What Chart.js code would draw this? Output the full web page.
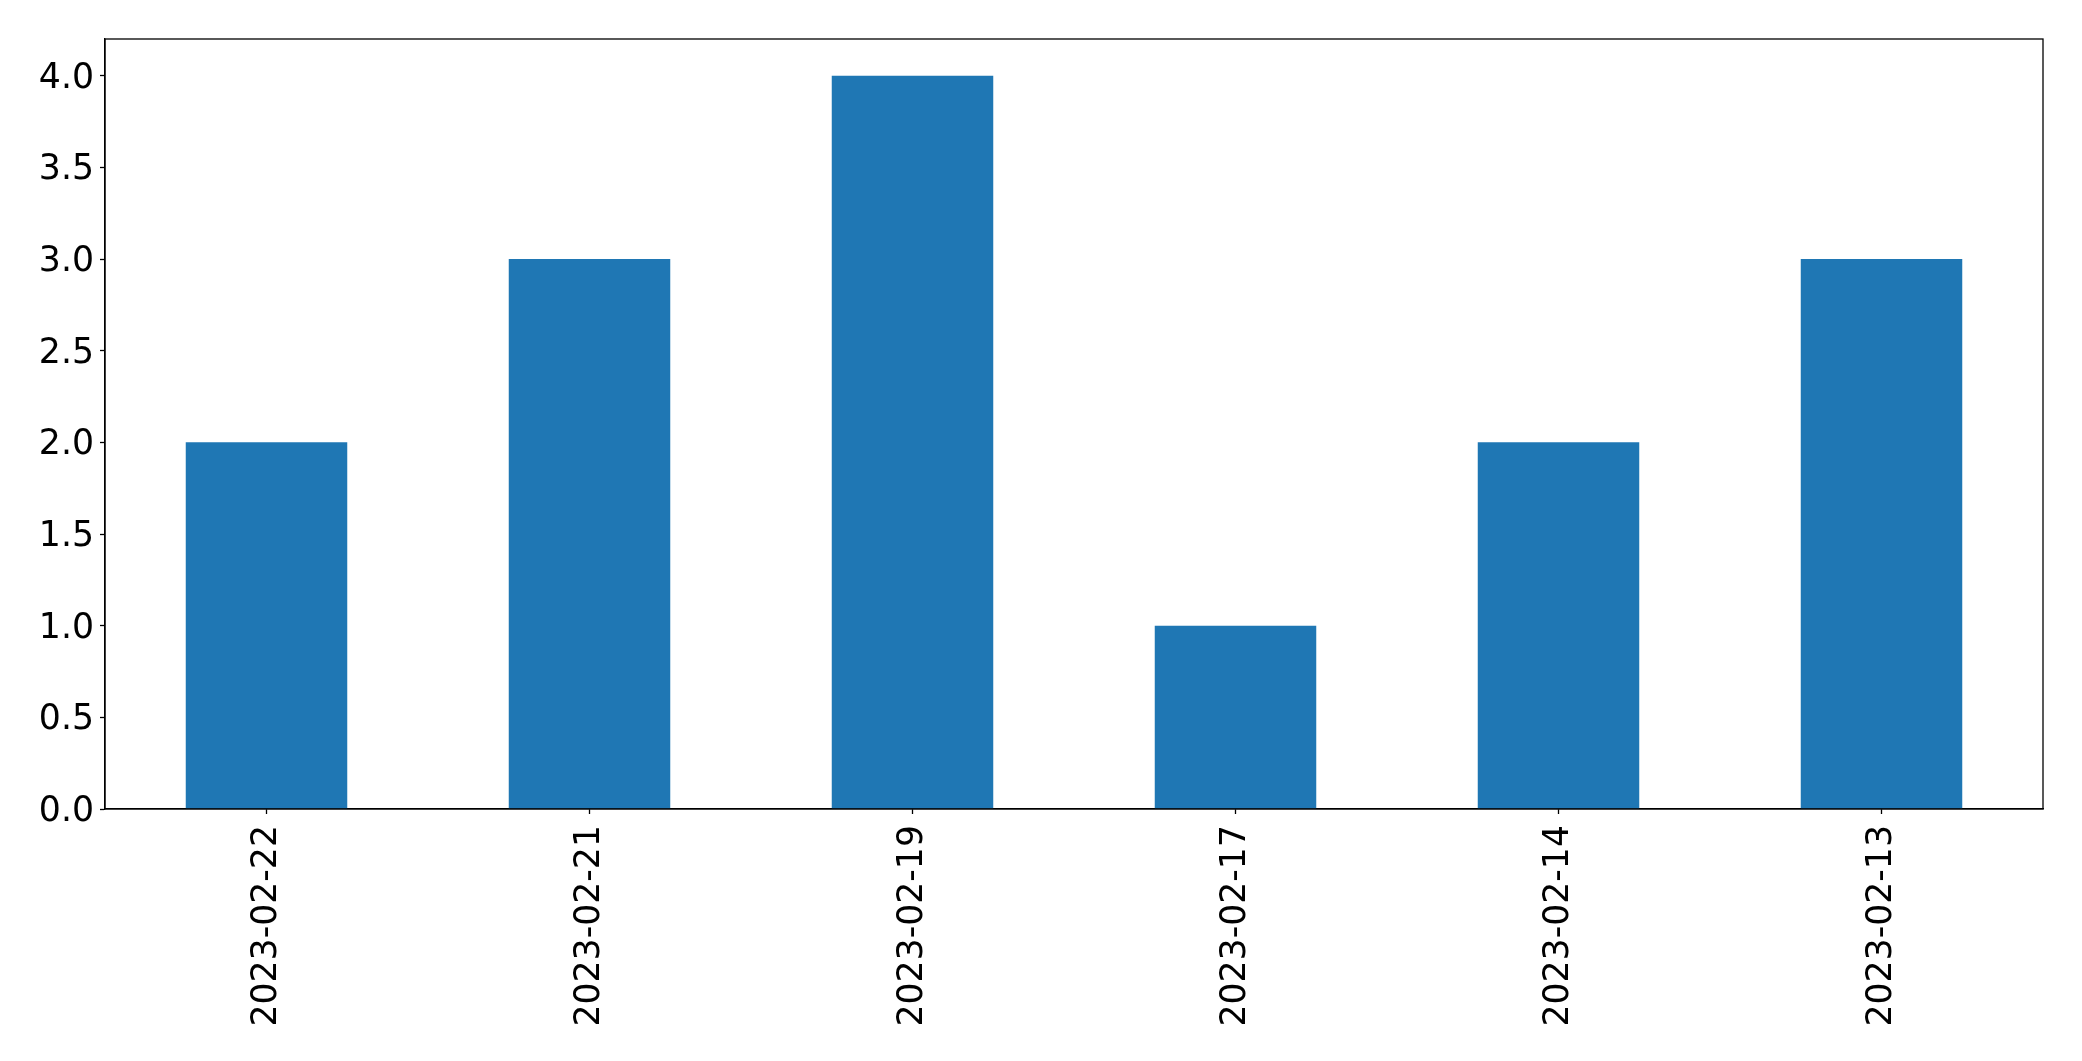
<!DOCTYPE html>
<html>
<head>
<meta charset="utf-8">
<script src="https://cdn.jsdelivr.net/npm/chart.js@4/dist/chart.umd.min.js"></script>
<style>
html,body{margin:0;padding:0;background:#fff;}
#wrap{width:2082px;height:1061px;position:relative;}
</style>
</head>
<body>
<div id="wrap"><canvas id="c" width="2082" height="1061"></canvas></div>
<script>
const categories = ["2023-02-22","2023-02-21","2023-02-19","2023-02-17","2023-02-14","2023-02-13"];
const counts = [2, 3, 4, 1, 2, 3];
const yTicks = [0.0, 0.5, 1.0, 1.5, 2.0, 2.5, 3.0, 3.5, 4.0];
const yMin = 0;
const yMax = 4.2;

const FONT = "'DejaVu Sans', sans-serif";

const framePlugin = {
  id: 'frame',
  afterDraw(chart) {
    const a = chart.chartArea;
    const ctx = chart.ctx;
    ctx.save();
    ctx.strokeStyle = '#000';
    ctx.lineWidth = 1.3;
    ctx.strokeRect(a.left, a.top, a.right - a.left, a.bottom - a.top);
    ctx.restore();
  }
};

new Chart(document.getElementById('c'), {
  type: 'bar',
  data: {
    labels: categories,
    datasets: [{
      data: counts,
      backgroundColor: '#1f77b4',
      borderWidth: 0,
      barPercentage: 0.5,
      categoryPercentage: 1.0
    }]
  },
  options: {
    responsive: false,
    animation: false,
    devicePixelRatio: 1,
    layout: { padding: { top: 39, right: 39, left: 0, bottom: 0 } },
    plugins: { legend: { display: false }, tooltip: { enabled: false } },
    scales: {
      x: {
        grid: { display: true, offset: false, drawOnChartArea: false, tickLength: 5, tickColor: '#000', tickWidth: 1.3 },
        border: { display: true, color: '#000', width: 1.3 },
        ticks: {
          color: '#000',
          font: { family: FONT, size: 34.7 },
          minRotation: 90,
          maxRotation: 90,
          padding: 11,
          autoSkip: false
        },
        afterFit(scale) { scale.height = 1061 - 809; }
      },
      y: {
        min: yMin,
        max: yMax,
        grid: { display: true, drawOnChartArea: false, tickLength: 5, tickColor: '#000', tickWidth: 1.3 },
        border: { display: true, color: '#000', width: 1.3 },
        ticks: {
          color: '#000',
          font: { family: FONT, size: 34.7 },
          padding: 6,
          labelOffset: 3,
          callback: (v) => Number(v).toFixed(1)
        },
        afterBuildTicks(scale) {
          scale.ticks = yTicks.map(v => ({ value: v }));
        },
        afterFit(scale) { scale.width = 105; }
      }
    }
  },
  plugins: [framePlugin]
});
</script>
</body>
</html>
